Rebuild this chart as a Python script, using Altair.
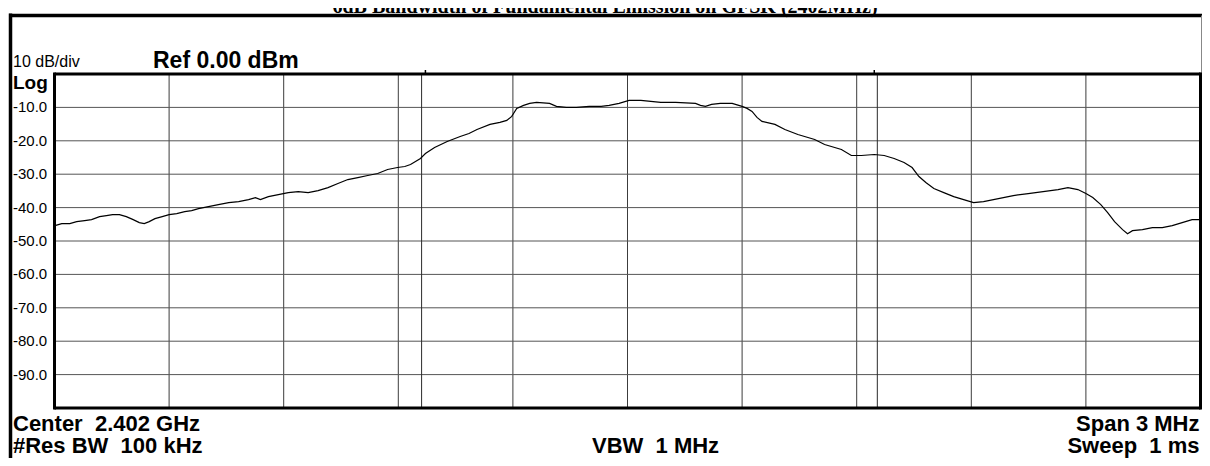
import altair as alt
import pandas as pd

# ---- trace data (offset from 2.402 GHz centre, MHz) ----
freq_mhz = [
    -1.499, -1.481, -1.460, -1.442, -1.421, -1.403, -1.382, -1.364, -1.348, -1.330,
    -1.312, -1.294, -1.278, -1.265, -1.252, -1.237, -1.218, -1.200, -1.180, -1.159,
    -1.141, -1.123, -1.097, -1.071, -1.044, -1.018, -0.992, -0.974, -0.961, -0.940,
    -0.914, -0.888, -0.862, -0.836, -0.810, -0.784, -0.758, -0.732, -0.706, -0.680,
    -0.654, -0.628, -0.602, -0.583, -0.568, -0.555, -0.542, -0.529, -0.505, -0.472,
    -0.438, -0.415, -0.394, -0.360, -0.334, -0.316, -0.303, -0.290, -0.272, -0.256,
    -0.238, -0.204, -0.186, -0.160, -0.134, -0.100, -0.069, -0.048, -0.022, 0.004,
    0.035, 0.061, 0.087, 0.126, 0.178, 0.191, 0.204, 0.220, 0.243, 0.274,
    0.300, 0.313, 0.326, 0.339, 0.352, 0.386, 0.412, 0.446, 0.490, 0.516,
    0.560, 0.586, 0.612, 0.646, 0.672, 0.698, 0.724, 0.745, 0.763, 0.781,
    0.802, 0.828, 0.854, 0.880, 0.906, 0.932, 0.958, 0.984, 1.010, 1.049,
    1.088, 1.127, 1.153, 1.179, 1.200, 1.218, 1.239, 1.257, 1.275, 1.296,
    1.309, 1.322, 1.348, 1.374, 1.400, 1.426, 1.452, 1.478, 1.499,
]
level_dbm = [
    -45.4, -44.8, -44.8, -44.2, -43.9, -43.6, -42.7, -42.4, -42.1, -42.1,
    -42.7, -43.6, -44.5, -44.8, -44.2, -43.3, -42.7, -42.1, -41.8, -41.2,
    -40.9, -40.3, -39.7, -39.1, -38.5, -38.2, -37.6, -37.0, -37.6, -36.7,
    -36.1, -35.5, -35.2, -35.5, -34.9, -34.0, -32.8, -31.6, -31.0, -30.4,
    -29.8, -28.6, -28.0, -27.7, -27.1, -26.2, -25.3, -23.8, -22.0, -20.2,
    -18.7, -17.8, -16.6, -15.1, -14.5, -13.9, -12.7, -10.3, -9.4, -8.8,
    -8.5, -8.8, -9.7, -10.0, -10.0, -9.7, -9.7, -9.4, -8.8, -7.9,
    -7.9, -8.2, -8.5, -8.5, -8.8, -9.4, -9.7, -9.1, -8.8, -8.8,
    -9.7, -10.3, -11.2, -13.0, -14.2, -15.1, -16.6, -18.1, -19.6, -21.1,
    -22.6, -24.4, -24.4, -24.1, -24.4, -25.3, -26.5, -28.0, -30.7, -32.5,
    -34.3, -35.5, -36.7, -37.6, -38.5, -38.2, -37.6, -37.0, -36.4, -35.8,
    -35.2, -34.6, -34.0, -34.6, -35.8, -37.0, -39.1, -41.5, -44.2, -46.6,
    -47.8, -46.9, -46.6, -46.0, -46.0, -45.4, -44.5, -43.6, -43.6,
]

# ---- grid / labels ----
grid_x_mhz = [-1.2, -0.9, -0.6, -0.3, 0.0, 0.3, 0.6, 0.9, 1.2]
grid_y_db = [-10, -20, -30, -40, -50, -60, -70, -80, -90]
y_label_values = [-10, -20, -30, -40, -50, -60, -70, -80, -90]
y_label_texts = ["-10.0", "-20.0", "-30.0", "-40.0", "-50.0", "-60.0", "-70.0", "-80.0", "-90.0"]
marker_mhz = [-0.539, 0.654]
marker_tick_mhz = [-0.529, 0.646]

title_text = "6dB Bandwidth of Fundamental Emission on GFSK (2402MHz)"
scale_text = "10 dB/div"
ref_text = "Ref 0.00 dBm"
log_text = "Log"
center_text = "Center\u00a0\u00a02.402 GHz"
rbw_text = "#Res BW\u00a0\u00a0100 kHz"
vbw_text = "VBW\u00a0\u00a01 MHz"
span_text = "Span 3 MHz"
sweep_text = "Sweep\u00a0\u00a01 ms"

PW, PH = 1146, 334
PAD = {"left": 46.5, "top": 66, "right": 1.5, "bottom": 50}
SANS = "Liberation Sans"
TOP = -58.5   # outer frame top line (view coords)

xs = alt.Scale(domain=[-1.5, 1.5], nice=False, zero=False)
ys = alt.Scale(domain=[-100, 0], nice=False, zero=False)

gridx = alt.Chart(pd.DataFrame({"f": grid_x_mhz})).mark_rule(color="#3c3c3c", strokeWidth=1).encode(
    x=alt.X("f:Q", scale=xs, axis=None), y=alt.value(0), y2=alt.value(PH)
)
gridy = alt.Chart(pd.DataFrame({"v": grid_y_db})).mark_rule(color="#555555", strokeWidth=1).encode(
    y=alt.Y("v:Q", scale=ys, axis=None), x=alt.value(0), x2=alt.value(PW)
)

markers = alt.Chart(pd.DataFrame({"f": marker_mhz})).mark_rule(color="#2a2a2a", strokeWidth=1).encode(
    x=alt.X("f:Q", scale=xs, axis=None), y=alt.value(0), y2=alt.value(PH)
)
marker_ticks = alt.Chart(pd.DataFrame({"f": marker_tick_mhz})).mark_rule(color="black", strokeWidth=1.5).encode(
    x=alt.X("f:Q", scale=xs, axis=None), y=alt.value(-4), y2=alt.value(0)
)

trace_df = pd.DataFrame({"f": freq_mhz, "dbm": level_dbm})
trace = alt.Chart(trace_df).mark_line(color="black", strokeWidth=1.2).encode(
    x=alt.X("f:Q", scale=xs, axis=None),
    y=alt.Y("dbm:Q", scale=ys, axis=None),
)

ylabels = alt.Chart(pd.DataFrame({"v": y_label_values, "t": y_label_texts})).mark_text(
    align="left", baseline="middle", font=SANS, fontSize=15, color="black"
).encode(x=alt.value(-41.5), y=alt.Y("v:Q", scale=ys, axis=None), text="t:N")


def label(txt, x, y, size, bold=True, align="left", font=SANS):
    return alt.Chart(pd.DataFrame({"t": [txt]})).mark_text(
        align=align, baseline="alphabetic", font=font, fontSize=size,
        fontWeight="bold" if bold else "normal", color="black"
    ).encode(x=alt.value(x), y=alt.value(y), text="t:N")


def rule(x1, y1, x2, y2, width, color="black"):
    return alt.Chart(pd.DataFrame({"d": [0]})).mark_rule(color=color, strokeWidth=width).encode(
        x=alt.value(x1), y=alt.value(y1), x2=alt.value(x2), y2=alt.value(y2)
    )


texts = [
    label(title_text, 550.5, -61.5, 20, True, "center", "Liberation Serif"),
    label(scale_text, -41.5, -7, 16, False),
    label(ref_text, 98.5, -6, 23, True),
    label(log_text, -41.5, 15, 19, True),
    label(center_text, -41.5, 357, 22, True),
    label(rbw_text, -41.5, 379, 22, True),
    label(vbw_text, 537.5, 379, 22, True),
    label(span_text, PW - 1, 357, 22, True, "right"),
    label(sweep_text, PW - 1, 379, 22, True, "right"),
]

frame = [
    rule(-44, TOP - 2, -44, 400, 3.5),                # outer left
    rule(-45.5, TOP, PW + 2, TOP, 3.5),               # outer top
    rule(PW + 1, TOP, PW + 1, 0, 1, "#888888"),       # outer right (thin)
    rule(0, 0, PW, 0, 3),                             # plot box top
    rule(0, PH, PW, PH, 3),                           # plot box bottom
    rule(0, -1.5, 0, PH + 1.5, 3),                    # plot box left
    rule(PW, -1.5, PW, PH + 1.5, 3),                  # plot box right
]

chart = alt.layer(gridx, gridy, markers, marker_ticks, trace, ylabels, *texts, *frame).properties(
    width=PW, height=PH, padding=PAD, background="white",
    autosize=alt.AutoSizeParams(type="none"),
).configure_view(strokeWidth=0)

chart.save("out.html", embed_options={"renderer": "svg", "actions": False})
